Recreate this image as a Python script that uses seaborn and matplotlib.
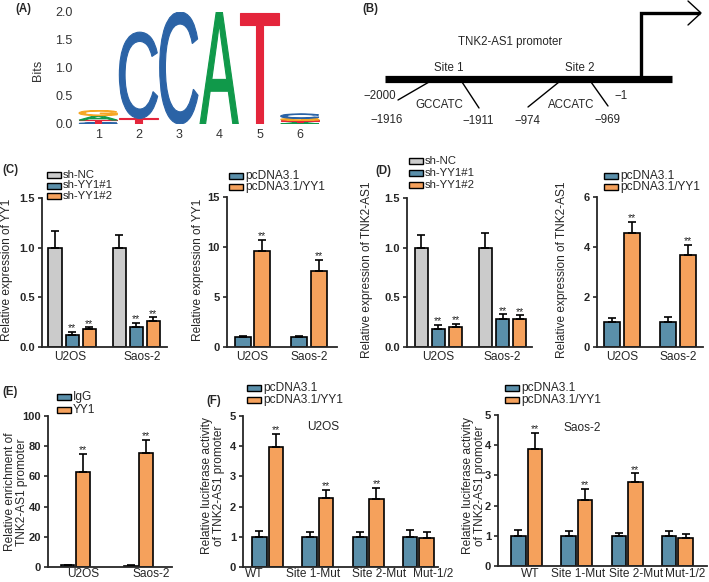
import numpy as np
import pandas as pd
import matplotlib
matplotlib.use("Agg")
import matplotlib.pyplot as plt
import seaborn as sns
from matplotlib.textpath import TextPath
from matplotlib.patches import PathPatch, Rectangle
from matplotlib.font_manager import FontProperties
from matplotlib.transforms import Affine2D

# ---- data ----
logo_letters = [["C", "T", "A", "G"], ["T", "C"], ["C"], ["A"], ["T"], ["A", "T", "G", "C"]]
logo_heights = [[0.02, 0.05, 0.08, 0.09], [0.10, 1.54], [2.0], [2.0], [1.98], [0.03, 0.035, 0.035, 0.08]]

cells = ["U2OS", "Saos-2"]
sh_groups = ["sh-NC", "sh-YY1#1", "sh-YY1#2"]
oe_groups = ["pcDNA3.1", "pcDNA3.1/YY1"]
chip_groups = ["IgG", "YY1"]
reporters = ["WT", "Site 1-Mut", "Site 2-Mut", "Mut-1/2"]

c_sh_mean = [[1.0, 1.0], [0.12, 0.20], [0.177, 0.263]]
c_sh_sd = [[0.17, 0.13], [0.033, 0.04], [0.02, 0.034]]
c_sh_sig = [[0, 0], [1, 1], [1, 1]]

c_oe_mean = [[0.97, 0.97], [9.63, 7.63]]
c_oe_sd = [[0.13, 0.13], [1.07, 1.07]]
oe_sig = [[0, 0], [1, 1]]

d_sh_mean = [[1.0, 1.0], [0.18, 0.28], [0.20, 0.28]]
d_sh_sd = [[0.13, 0.15], [0.04, 0.05], [0.03, 0.04]]

d_oe_mean = [[1.0, 1.0], [4.55, 3.68]]
d_oe_sd = [[0.18, 0.20], [0.46, 0.40]]

e_mean = [[1.0, 0.8], [62.7, 75.3]]
e_sd = [[0.5, 0.4], [12.1, 8.8]]

f_u2os_mean = [[1.0, 1.0, 1.0, 1.0], [3.98, 2.27, 2.24, 0.97]]
f_u2os_sd = [[0.20, 0.17, 0.17, 0.22], [0.42, 0.28, 0.39, 0.18]]
f_saos_mean = [[1.0, 1.0, 1.0, 1.0], [3.87, 2.18, 2.78, 0.92]]
f_saos_sd = [[0.18, 0.15, 0.10, 0.15], [0.53, 0.38, 0.29, 0.15]]
f_sig = [[0, 0, 0, 0], [1, 1, 1, 0]]

promoter_marks = ["\u22122000", "\u22121916", "\u22121911", "\u2212974", "\u2212969", "\u22121"]
site_motifs = ["GCCATC", "ACCATC"]

GRAY, BLUE, ORANGE = "#CBCBCB", "#5A8FAA", "#F5A15C"
LOGO_COLORS = {"A": "#10994A", "C": "#2B63A6", "G": "#F6A623", "T": "#E4253B"}

sns.set_style("ticks")
plt.rcParams["font.family"] = ["Liberation Sans", "DejaVu Sans"]

W, H = 709, 582
FS = 8.6
fig = plt.figure(figsize=(W / 100, H / 100), dpi=100)


def px_axes(l, t, r, b):
    return fig.add_axes([l / W, 1 - b / H, (r - l) / W, (b - t) / H])


def style_axes(ax, ylim, yticks, fmt, xpad=3.0):
    ax.set_ylim(*ylim)
    ax.set_yticks(yticks)
    ax.set_yticklabels([fmt.format(v) for v in yticks], fontweight="bold", fontsize=8)
    ax.tick_params(axis="y", length=3, width=1.2, pad=2)
    ax.tick_params(axis="x", length=0, pad=xpad, labelsize=FS)
    for s in ["top", "right"]:
        ax.spines[s].set_visible(False)
    for s in ["left", "bottom"]:
        ax.spines[s].set_linewidth(1.3)
    ax.set_xlabel("")
    ax.set_ylabel("")
    ax.patch.set_alpha(0)


def bar_panel(ax, cats, groups, means, sds, sig, colors, width, gap, xlim, shift=None):
    df = pd.DataFrame({
        "cat": np.tile(cats, len(groups)),
        "group": np.repeat(groups, len(cats)),
        "value": np.concatenate(means),
    })
    sns.barplot(data=df, x="cat", y="value", hue="group", order=cats, hue_order=groups,
                palette=colors, saturation=1, width=width, gap=gap, edgecolor="black",
                linewidth=1.2, errorbar=None, legend=False, ax=ax)
    bars = list(ax.containers)
    for cont, sd, sg in zip(bars, sds, sig):
        xs = [p.get_x() + p.get_width() / 2 for p in cont.patches]
        ys = [p.get_height() for p in cont.patches]
        ax.errorbar(xs, ys, yerr=[np.zeros(len(xs)), sd], fmt="none", ecolor="black",
                    elinewidth=1.2, capsize=2.9, capthick=1.2)
        for x, y, e, s in zip(xs, ys, sd, sg):
            if s:
                ax.annotate("**", (x, y + e), xytext=(0, -1), textcoords="offset points",
                            ha="center", va="bottom", fontsize=7.5)
    ax.set_xlim(*xlim)
    if shift is not None:
        # tick labels sit slightly off the group centres in the original layout
        ax.set_xticks(np.arange(len(cats)) + np.array(shift))
        ax.set_xticklabels(cats)


# ---- (A) motif logo ----
ax_a = px_axes(78, 12, 320, 124)
logo_font = FontProperties(family="Liberation Sans")
for i, (lets, hts) in enumerate(zip(logo_letters, logo_heights)):
    x = i + 1
    y0 = 0.0
    for let, h in zip(lets, hts):
        tp = TextPath((0, 0), let, size=1, prop=logo_font)
        bb = tp.get_extents()
        tr = (Affine2D().translate(-bb.x0, -bb.y0)
              .scale(0.95 / bb.width, h / bb.height)
              .translate(x - 0.475, y0))
        ax_a.add_patch(PathPatch(tr.transform_path(tp), fc=LOGO_COLORS[let],
                                 ec=LOGO_COLORS[let], lw=0.8))
        y0 += h
ax_a.set_xlim(0.5, 6.5)
ax_a.set_ylim(0, 2)
ax_a.set_xticks(range(1, 7))
ax_a.set_yticks([0, 0.5, 1.0, 1.5, 2.0])
ax_a.set_yticklabels(["0.0", "0.5", "1.0", "1.5", "2.0"])
ax_a.tick_params(length=0, labelsize=9, colors="#333333")
ax_a.tick_params(axis="y", pad=4)
ax_a.tick_params(axis="x", pad=3.5)
for s in ax_a.spines.values():
    s.set_visible(False)
ax_a.patch.set_alpha(0)

# ---- (C) ----
ax = px_axes(42, 198, 167, 347)
bar_panel(ax, cells, sh_groups, c_sh_mean, c_sh_sd, c_sh_sig, [GRAY, BLUE, ORANGE], 0.8, 0.23,
          (-0.47, 1.48), shift=[-0.03, 0.09])
style_axes(ax, (0, 1.5), [0, 0.5, 1.0, 1.5], "{:.1f}")

ax = px_axes(227, 197, 337, 347)
bar_panel(ax, cells, oe_groups, c_oe_mean, c_oe_sd, oe_sig, [BLUE, ORANGE], 0.69, 0.18, (-0.45, 1.5))
style_axes(ax, (0, 15), [0, 5, 10, 15], "{:.0f}")

# ---- (D) ----
ax = px_axes(407, 198, 532, 347)
bar_panel(ax, cells, sh_groups, d_sh_mean, d_sh_sd, c_sh_sig, [GRAY, BLUE, ORANGE], 0.8, 0.23, (-0.49, 1.46))
style_axes(ax, (0, 1.5), [0, 0.5, 1.0, 1.5], "{:.1f}")

ax = px_axes(597, 197, 703, 347)
bar_panel(ax, cells, oe_groups, d_oe_mean, d_oe_sd, oe_sig, [BLUE, ORANGE], 0.7, 0.18, (-0.45, 1.45))
style_axes(ax, (0, 6), [0, 2, 4, 6], "{:.0f}")

# ---- (E) ----
ax = px_axes(48, 416, 172, 567)
bar_panel(ax, cells, chip_groups, e_mean, e_sd, oe_sig, [BLUE, ORANGE], 0.48, 0.1,
          (-0.43, 1.53), shift=[0.12, 0.2])
style_axes(ax, (0, 100), [0, 20, 40, 60, 80, 100], "{:.0f}", xpad=0.8)

# ---- (F) ----
ax = px_axes(243, 416, 438, 567)
bar_panel(ax, reporters, oe_groups, f_u2os_mean, f_u2os_sd, f_sig, [BLUE, ORANGE], 0.66, 0.12,
          (-0.49, 3.39), shift=[-0.27, -0.1, 0.22, 0.3])
style_axes(ax, (0, 5), [0, 1, 2, 3, 4, 5], "{:.0f}", xpad=0.8)

ax = px_axes(498, 415, 707, 566)
bar_panel(ax, reporters, oe_groups, f_saos_mean, f_saos_sd, f_sig, [BLUE, ORANGE], 0.66, 0.12,
          (-0.57, 3.59), shift=[0.07, 0.03, 0.18, 0.16])
style_axes(ax, (0, 5), [0, 1, 2, 3, 4, 5], "{:.0f}", xpad=1.5)

# ---- overlay: labels, legends, promoter scheme ----
ov = fig.add_axes([0, 0, 1, 1], zorder=10)
ov.set_xlim(0, W)
ov.set_ylim(H, 0)
ov.axis("off")
ov.patch.set_alpha(0)

for lab, x, y in [("(A)", 23, 9), ("(B)", 370, 9), ("(C)", 10, 170), ("(D)", 383, 171),
                  ("(E)", 10, 392), ("(F)", 214, 401)]:
    ov.text(x, y, lab, ha="center", va="center", fontsize=8.3, fontweight="bold")


def legend(x, rows, labels, colors, fs=FS):
    for y, lab, c in zip(rows, labels, colors):
        ov.add_patch(Rectangle((x, y - 3), 14, 6, fc=c, ec="black", lw=1.0))
        ov.text(x + 16, y, lab, ha="left", va="center", fontsize=fs)


legend(47, [175, 185.5, 196], sh_groups, [GRAY, BLUE, ORANGE], fs=8.2)
legend(229, [176, 187], oe_groups, [BLUE, ORANGE])
legend(409, [161, 173, 185], sh_groups, [GRAY, BLUE, ORANGE], fs=8.2)
legend(604, [176, 187], oe_groups, [BLUE, ORANGE])
legend(57, [397, 410], chip_groups, [BLUE, ORANGE])
legend(247, [388, 400], oe_groups, [BLUE, ORANGE])
legend(505, [388, 400], oe_groups, [BLUE, ORANGE])

# y labels
ylabs = [("Relative expression of YY1", 7, 270), ("Relative expression of YY1", 198, 270),
         ("Relative expression of TNK2-AS1", 367, 270), ("Relative expression of TNK2-AS1", 562, 270),
         ("Relative enrichment of\nTNK2-AS1 promoter", 16, 492),
         ("Relative luciferase activity\nof TNK2-AS1 promoter", 213, 486),
         ("Relative luciferase activity\nof TNK2-AS1 promoter", 474, 486)]
for txt, x, y in ylabs:
    ov.text(x, y, txt, rotation=90, ha="center", va="center", fontsize=FS, linespacing=1.0)
ov.text(38, 70, "Bits", rotation=90, ha="center", va="center", fontsize=9, color="#333333")

ov.text(323, 427, "U2OS", ha="center", va="center", fontsize=FS)
ov.text(582, 428, "Saos-2", ha="center", va="center", fontsize=FS)

# promoter scheme (B)
ov.plot([385, 672], [79, 79], color="black", lw=5.2, solid_capstyle="butt")
ov.plot([641, 641, 700], [81, 13, 13], color="black", lw=2.4, solid_joinstyle="miter", solid_capstyle="butt")
ov.plot([688, 701, 688], [1, 13, 25], color="black", lw=1.0)
for (x0, y0, x1, y1) in [(429, 82, 398, 100), (462, 82, 479, 108), (559, 82, 528, 107), (591, 82, 608, 106)]:
    ov.plot([x0, x1], [y0, y1], color="black", lw=1.0)
ov.text(510, 42, "TNK2-AS1 promoter", ha="center", va="center", fontsize=8.3)
ov.text(449, 68, "Site 1", ha="center", va="center", fontsize=8.3)
ov.text(580, 68, "Site 2", ha="center", va="center", fontsize=8.3)
for lab, x, y in zip(promoter_marks, [380, 387, 478, 527, 607, 621], [96, 120, 121, 121, 120, 96]):
    ov.text(x, y, lab, ha="center", va="center", fontsize=8.3)
for lab, x in zip(site_motifs, [439, 571]):
    ov.text(x, 105, lab, ha="center", va="center", fontsize=8.3)

fig.savefig("out.png", dpi=100)
plt.close(fig)
